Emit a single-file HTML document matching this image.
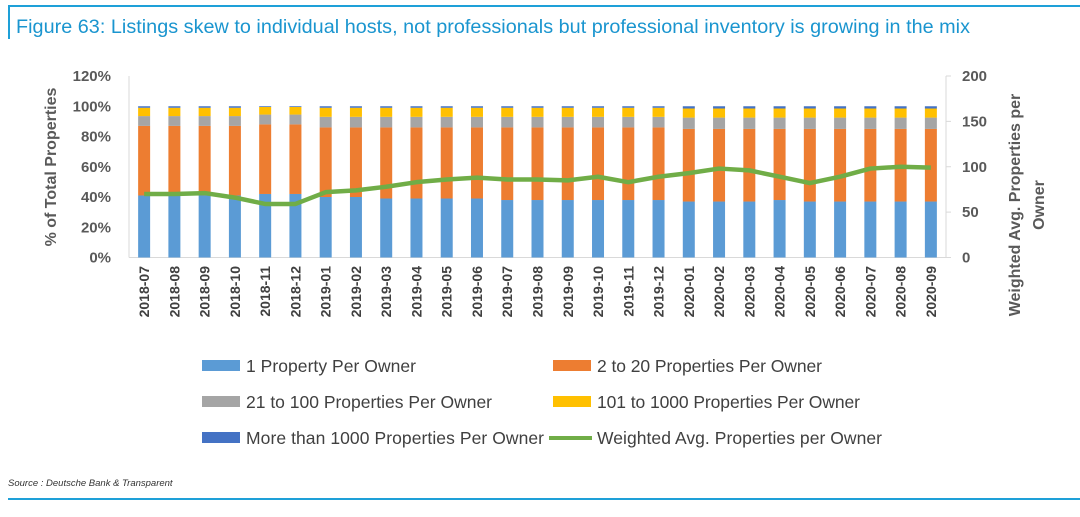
<!DOCTYPE html>
<html><head><meta charset="utf-8"><style>
body{margin:0;background:#fff;width:1080px;height:512px;overflow:hidden;font-family:"Liberation Sans",sans-serif}
svg text{font-family:"Liberation Sans",sans-serif}
</style></head><body>
<svg id="c" width="1080" height="512">
<line x1="9" y1="6" x2="1080" y2="6" stroke="#1ea0d8" stroke-width="2"/>
<line x1="9" y1="5" x2="9" y2="39" stroke="#1ea0d8" stroke-width="2"/>
<text x="16" y="33" font-size="19.8" textLength="954" fill="#1a95cf">Figure 63: Listings skew to individual hosts, not professionals but professional inventory is growing in the mix</text>
<text x="8" y="486" font-size="9.5" font-style="italic" fill="#333">Source : Deutsche Bank &amp; Transparent</text>
<line x1="8" y1="499" x2="1080" y2="499" stroke="#1ea0d8" stroke-width="2"/>
<text transform="translate(56,167) rotate(-90)" text-anchor="middle" font-size="16" font-weight="bold" fill="#595959">% of Total Properties</text>
<text transform="translate(1020,205) rotate(-90)" text-anchor="middle" font-size="16" font-weight="bold" fill="#595959">Weighted Avg. Properties per</text>
<text transform="translate(1044,205) rotate(-90)" text-anchor="middle" font-size="16" font-weight="bold" fill="#595959">Owner</text>
<g id="plot"></g>
<g id="legend"></g>
</svg>
<script>
const categories=["2018-07","2018-08","2018-09","2018-10","2018-11","2018-12","2019-01","2019-02","2019-03","2019-04","2019-05","2019-06","2019-07","2019-08","2019-09","2019-10","2019-11","2019-12","2020-01","2020-02","2020-03","2020-04","2020-05","2020-06","2020-07","2020-08","2020-09"];
const s1=[41,41,41,41,42,42,40,40,39,39,39,39,38,38,38,38,38,38,37,37,37,38,37,37,37,37,37];
const s2=[46,46,46,46,46,46,46,46,47,47,47,47,48,48,48,48,48,48,48,48,48,47,48,48,48,48,48];
const s3=[6.5,6.5,6.5,6.5,6.5,6.5,7,7,7,7,7,7,7,7,7,7,7,7,7.5,7.5,7.5,7.5,7.5,7.5,7.5,7.5,7.5];
const s4=[5.5,5.5,5.5,5.5,5,5,6,6,6,6,6,6,6,6,6,6,6,6,6,6,6,6,6,6,6,6,6];
const s5=[1,1,1,1,0.5,0.5,1,1,1,1,1,1,1,1,1,1,1,1,1.5,1.5,1.5,1.5,1.5,1.5,1.5,1.5,1.5];
const avg=[70,70,71,66,59,59,72,74,78,83,86,88,86,86,85,89,83,89,93,98,96,89,82,89,98,100,99];
const leftTicks=["0%","20%","40%","60%","80%","100%","120%"];
const rightTicks=["0","50","100","150","200"];
const NS="http://www.w3.org/2000/svg";
const X0=129,X1=946,Y0=257.5,Y1=76;
const yL=v=>Y0-(v/120)*(Y0-Y1);
const yR=v=>Y0-(v/200)*(Y0-Y1);
const step=(X1-X0)/categories.length;
const xC=i=>X0+step*(i+0.5);
const plot=document.getElementById('plot');
function mk(t,a,p){const e=document.createElementNS(NS,t);for(const k in a)e.setAttribute(k,a[k]);(p||plot).appendChild(e);return e;}
let ax=mk('line',{x1:X0,y1:Y0,x2:X1,y2:Y0,stroke:'#d9d9d9'});


let la=mk('line',{x1:X0,y1:Y0,x2:X0,y2:Y1,stroke:'#d9d9d9'});


let ra=mk('line',{x1:X1,y1:Y0,x2:X1,y2:Y1,stroke:'#d9d9d9'});


leftTicks.forEach((t,i)=>{const e=mk('text',{x:111,y:yL(i*20)+5,'text-anchor':'end','font-size':15,'font-weight':'bold',fill:'#595959'});e.textContent=t;

});
rightTicks.forEach((t,i)=>{const v=+t;mk('line',{x1:X1,x2:X1+5,y1:yR(v),y2:yR(v),stroke:'#d9d9d9'});const e=mk('text',{x:962,y:yR(v)+5,'font-size':15,'font-weight':'bold',fill:'#595959'});e.textContent=t;

});
const series=[s1,s2,s3,s4,s5],cols=['#5b9bd5','#ed7d31','#a5a5a5','#ffc000','#4472c4'],names=['one','two-to-20','21-to-100','101-to-1000','over-1000'];
categories.forEach((c,i)=>{let acc=0;series.forEach((s,k)=>{const r=mk('rect',{x:xC(i)-6,y:yL(acc+s[i]),width:12,height:yL(acc)-yL(acc+s[i]),fill:cols[k]});


acc+=s[i];});
const t=mk('text',{transform:`translate(${xC(i)+5},266) rotate(-90)`,'text-anchor':'end','font-size':14,'font-weight':'bold',fill:'#404040'});t.textContent=c;

});
const ln=mk('polyline',{points:avg.map((v,i)=>xC(i)+','+yR(v)).join(' '),fill:'none',stroke:'#70ad47','stroke-width':4.5,'stroke-linejoin':'round'});


const lg=document.getElementById('legend');
const items=[[202,366,'#5b9bd5','1 Property Per Owner','r',170],[553,366,'#ed7d31','2 to 20 Properties Per Owner','r',225],[202,402,'#a5a5a5','21 to 100 Properties Per Owner','r',246],[553,402,'#ffc000','101 to 1000 Properties Per Owner','r',263],[202,438,'#4472c4','More than 1000 Properties Per Owner','r',298],[549,438,'#70ad47','Weighted Avg. Properties per Owner','l',285]];
items.forEach(([x,y,c,t,k,w])=>{const g=mk('g',{},lg);


if(k==='r')mk('rect',{x:x,y:y-6,width:38,height:11,fill:c},g);else mk('line',{x1:x,x2:x+43,y1:y,y2:y,stroke:c,'stroke-width':4},g);
const e=mk('text',{x:x+(k==='r'?44:48),y:y+6,'font-size':17.5,textLength:w,fill:'#404040'},g);e.textContent=t;});
</script>
</body></html>
